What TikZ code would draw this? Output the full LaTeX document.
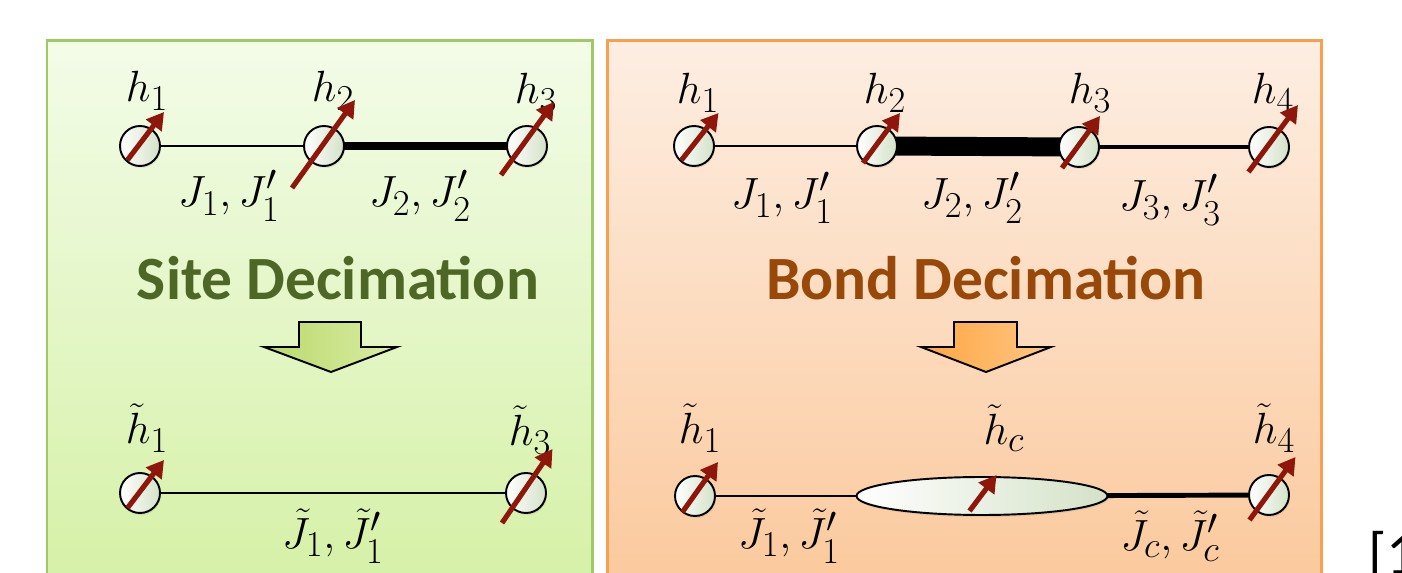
\documentclass[tikz,border=0pt]{standalone}
\usepackage{amsmath}
\usepackage{fontspec}
\newfontfamily\titlefont{Carlito}
\usetikzlibrary{positioning, arrows.meta, shapes.geometric, shadows, backgrounds}

\definecolor{spinred}{RGB}{142,22,10}
\definecolor{siteshade}{RGB}{212,226,200}
\definecolor{siteborder}{RGB}{160,200,100}
\definecolor{sitetop}{RGB}{243,252,232}
\definecolor{sitebottom}{RGB}{214,241,168}
\definecolor{sitetitle}{RGB}{78,102,38}
\definecolor{bondborder}{RGB}{248,160,80}
\definecolor{bondtop}{RGB}{253,238,226}
\definecolor{bondbottom}{RGB}{251,202,158}
\definecolor{bondtitle}{RGB}{152,72,8}
\definecolor{greenarrowL}{RGB}{186,216,110}
\definecolor{greenarrowR}{RGB}{218,237,162}
\definecolor{orangearrowL}{RGB}{255,166,66}
\definecolor{orangearrowR}{RGB}{255,198,132}

\begin{document}
\begin{tikzpicture}[
        x=0.02cm, y=-0.02cm,
        site/.style={draw, circle, line width=1.1pt, minimum size=0.8cm, inner sep=0pt, left color=white, right color=siteshade, drop shadow={opacity=0.15, shadow xshift=0.6pt, shadow yshift=-1.2pt}},
        cluster/.style={draw, ellipse, line width=1.1pt, minimum width=5.02cm, minimum height=0.76cm, inner sep=0pt, left color=white, right color=siteshade, drop shadow={opacity=0.15, shadow xshift=0.6pt, shadow yshift=-1.2pt}},
        spin/.style={-{Triangle[length=0.34cm, width=0.38cm]}, line width=2.9pt, draw=spinred, fill=spinred},
        bond/.style={draw=black},
        decim/.style={draw=black, line width=1.1pt, line join=miter},
        label_text/.style={font=\fontsize{24.88}{30}\selectfont},
        title_text/.style={font=\titlefont\bfseries\fontsize{35}{42}\selectfont}
    ]

        \useasboundingbox (0,0) rectangle (1402,573);

        \begin{scope}[on background layer]
            \fill[top color=sitetop, bottom color=sitebottom] (47,41) rectangle (592,573);
            \draw[siteborder, line width=1.7pt] (47,573) -- (47,41) -- (592,41) -- (592,573);
            \fill[top color=bondtop, bottom color=bondbottom] (607,41) rectangle (1321,573);
            \draw[bondborder, line width=1.7pt] (607,573) -- (607,41) -- (1321,41) -- (1321,573);
        \end{scope}

        % site decimation
        \node[site] (s1) at (140,146) {};
        \node[site] (s2) at (324,146) {};
        \node[site] (s3) at (527,146) {};

        \node[label_text] (ls1) at (147,91) {$h_1$};
        \node[label_text] (ls2) at (333,91) {$h_2$};
        \node[label_text] (ls3) at (536,93) {$h_3$};
        \node[label_text] (js1) at (229,196) {$J_1, J_1'$};
        \node[label_text] (js2) at (420,196) {$J_2, J_2'$};

        \node[title_text, text=sitetitle] (sitetitle) at (338,278) {Site Decimation};

        \draw[decim, left color=greenarrowL, right color=greenarrowR] (299,322) -- (361,322) -- (361,347) -- (397,347) -- (331,372) -- (264,347) -- (299,347) -- cycle;

        \node[site] (t1) at (140,493) {};
        \node[site] (t3) at (526,493) {};

        \node[label_text] (lt1) at (147,428) {$\tilde{h}_1$};
        \node[label_text] (lt3) at (530,430) {$\tilde{h}_3$};
        \node[label_text] (jt1) at (333,536) {$\tilde{J}_1, \tilde{J}_1'$};

        % bond decimation
        \node[site] (b1) at (694,146) {};
        \node[site] (b2) at (877,146) {};
        \node[site] (b3) at (1079,147) {};
        \node[site] (b4) at (1269,147) {};

        \node[label_text] (lb1) at (698,93) {$h_1$};
        \node[label_text] (lb2) at (885,93) {$h_2$};
        \node[label_text] (lb3) at (1090,93) {$h_3$};
        \node[label_text] (lb4) at (1273,93) {$h_4$};
        \node[label_text] (jb1) at (782,198) {$J_1, J_1'$};
        \node[label_text] (jb2) at (972,198) {$J_2, J_2'$};
        \node[label_text] (jb3) at (1170,200) {$J_3, J_3'$};

        \node[title_text, text=bondtitle] (bondtitle) at (986,278) {Bond Decimation};

        \draw[decim, left color=orangearrowL, right color=orangearrowR] (954,322) -- (1017,322) -- (1017,347) -- (1051,347) -- (986,372) -- (921,347) -- (954,347) -- cycle;

        \node[site] (c1) at (695,496) {};
        \node[cluster] (hc) at (982,496) {};
        \node[site] (c4) at (1269,495) {};

        \node[label_text] (lc1) at (700,428) {$\tilde{h}_1$};
        \node[label_text] (lhc) at (1004,428) {$\tilde{h}_c$};
        \node[label_text] (lc4) at (1274,428) {$\tilde{h}_4$};
        \node[label_text] (jc1) at (789,536) {$\tilde{J}_1, \tilde{J}_1'$};
        \node[label_text] (jc4) at (1170,536) {$\tilde{J}_c, \tilde{J}_c'$};

        \begin{scope}[on background layer]
            \draw[bond, line width=1.7pt] (s1.center) -- (s2.center);
            \draw[bond, line width=4pt] (s2.center) -- (s3.center);
            \draw[bond, line width=0.7pt] (t1.center) -- (t3.center);
            \draw[bond, line width=0.6pt] (b1.center) -- (b2.center);
            \draw[bond, line width=10.8pt] (b2.center) -- (b3.center);
            \draw[bond, line width=2pt] (b3.center) -- (b4.center);
            \draw[bond, line width=0.7pt] (c1.center) -- (hc.center);
            \draw[bond, line width=2.8pt] (hc.center) -- (c4.center);
        \end{scope}

        \draw[spin] ([shift={(-12.5,14)}]s1.center) -- ([shift={(24,-34)}]s1.center);
        \draw[spin] ([shift={(-32,42)}]s2.center) -- ([shift={(31,-46)}]s2.center);
        \draw[spin] ([shift={(-26,29)}]s3.center) -- ([shift={(27,-44)}]s3.center);
        \draw[spin] ([shift={(-12.5,15)}]t1.center) -- ([shift={(24,-33)}]t1.center);
        \draw[spin] ([shift={(-24,30)}]t3.center) -- ([shift={(26.5,-44)}]t3.center);
        \draw[spin] ([shift={(-12.5,14)}]b1.center) -- ([shift={(24.5,-33)}]b1.center);
        \draw[spin] ([shift={(-14,17)}]b2.center) -- ([shift={(23,-33)}]b2.center);
        \draw[spin] ([shift={(-17,21)}]b3.center) -- ([shift={(21,-31)}]b3.center);
        \draw[spin] ([shift={(-20.5,25)}]b4.center) -- ([shift={(29,-42)}]b4.center);
        \draw[spin] ([shift={(-12.5,16)}]c1.center) -- ([shift={(23,-34)}]c1.center);
        \draw[spin] ([shift={(-12.5,15)}]hc.center) -- ([shift={(14.5,-21)}]hc.center);
        \draw[spin] ([shift={(-19.5,25)}]c4.center) -- ([shift={(26.5,-38)}]c4.center);

        \begin{scope}
            \clip (1340,500) rectangle (1402,573);
            \node[font=\titlefont\fontsize{34}{40}\selectfont, anchor=base west, inner sep=0pt] (cite) at (1368,574) {[1};
        \end{scope}

    \end{tikzpicture}
\end{document}
